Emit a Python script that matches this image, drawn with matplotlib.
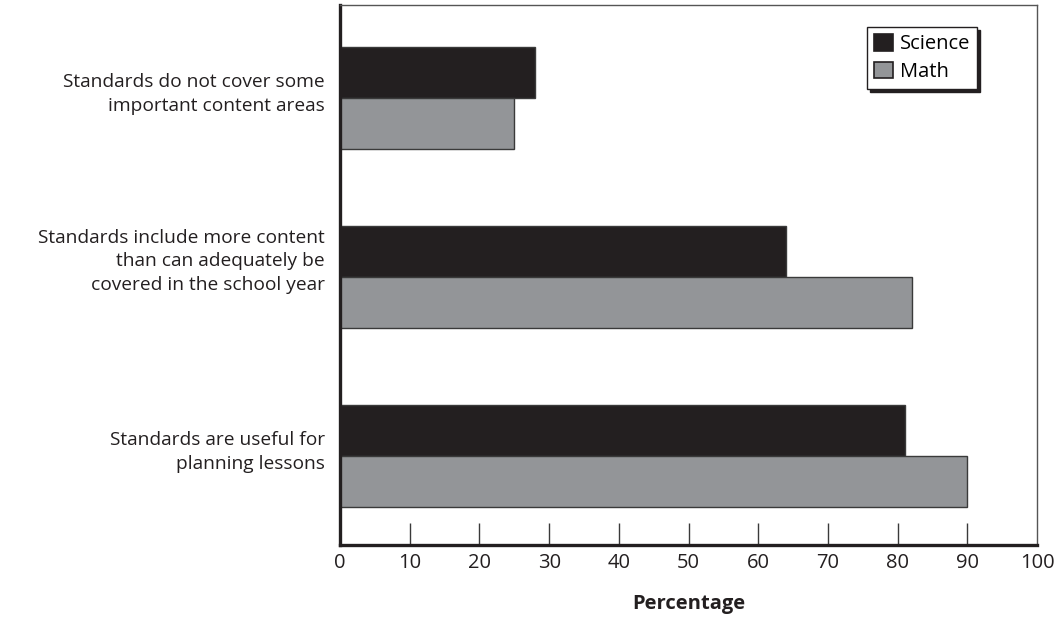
import matplotlib.pyplot as plt
import numpy as np

# categories listed bottom to top
categories = ["Standards are useful for\nplanning lessons",
              "Standards include more content\nthan can adequately be\ncovered in the school year",
              "Standards do not cover some\nimportant content areas"]
science = [81, 64, 28]
math = [90, 82, 25]
xticks = [0, 10, 20, 30, 40, 50, 60, 70, 80, 90, 100]

plt.rcParams['font.family'] = ['Open Sans', 'DejaVu Sans']

fig = plt.figure(figsize=(10.6, 6.17), dpi=100)
ax = fig.add_axes([0.3208, 0.1167, 0.6575, 0.8752])

y = np.arange(len(categories))
h = 0.285
ax.barh(y + h / 2, science, height=h, color='#231f20', edgecolor='#3a3a3a', linewidth=1, label='Science')
ax.barh(y - h / 2, math, height=h, color='#939598', edgecolor='#3a3a3a', linewidth=1, label='Math')

ax.set_xlim(0, 100)
ax.set_ylim(-0.497, 2.52)
# labels sit with their last line just under the bar split (ticks are hidden)
ax.set_yticks(y - 0.095)
ax.set_yticklabels(categories, fontsize=13.8, color='#231f20')
for lbl in ax.get_yticklabels():
    lbl.set_linespacing(1.4)
    lbl.set_va('bottom')
ax.tick_params(axis='y', length=0, pad=11)

ax.set_xticks(xticks)
ax.set_xticklabels([str(t) for t in xticks], fontsize=14.5, color='#231f20')
ax.tick_params(axis='x', direction='in', length=16, width=1, color='#3a3a3a', pad=6)
# hide end ticks (spines sit there)
for t in ax.xaxis.get_major_ticks():
    if t.get_loc() in (0, 100):
        t.tick1line.set_visible(False)

ax.set_xlabel('Percentage', fontsize=14.5, fontweight='bold', color='#231f20', labelpad=15)

for side in ['left', 'bottom']:
    ax.spines[side].set_linewidth(2.4)
    ax.spines[side].set_color('#231f20')
for side in ['top', 'right']:
    ax.spines[side].set_linewidth(1)
    ax.spines[side].set_color('#555555')

leg = ax.legend(loc='upper right', bbox_to_anchor=(0.914, 0.959), borderaxespad=0,
                fontsize=14.5, frameon=True, fancybox=False, edgecolor='#231f20', framealpha=1,
                handlelength=0.9, handleheight=0.9, handletextpad=0.35,
                borderpad=0.35, labelspacing=0.35,
                shadow={'facecolor': '#231f20', 'edgecolor': '#231f20', 'alpha': 1})
leg.get_frame().set_linewidth(1)
for p in leg.get_patches():
    p.set_edgecolor('#231f20')
    p.set_linewidth(1.2)

fig.savefig('out.png', dpi=100)
